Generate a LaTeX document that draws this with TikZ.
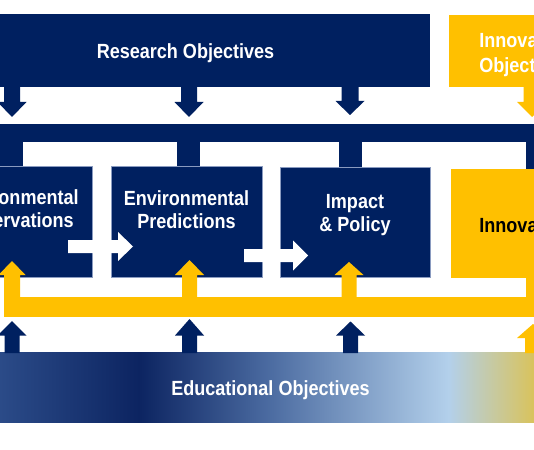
\documentclass[tikz,border=0pt]{standalone}
\usepackage{fontspec}
\setmainfont{Liberation Sans}
\newfontfamily\tfontfam[FakeStretch=0.88]{Liberation Sans Bold}
\newcommand\tfont{\tfontfam\fontsize{20.5}{23}\selectfont}
\definecolor{navy}{HTML}{002060}
\definecolor{gold}{HTML}{FFC000}
\definecolor{edge}{HTML}{8A9BC0}
\definecolor{eduA}{HTML}{2B4B88}
\definecolor{eduB}{HTML}{0C2461}
\definecolor{eduC}{HTML}{4A6AA0}
\definecolor{eduD}{HTML}{B3D0EB}
\definecolor{eduE}{HTML}{D9C35C}
\pgfdeclarehorizontalshading{edushade}{100bp}{color(0bp)=(eduA); color(25bp)=(eduA); color(38bp)=(eduB); color(50bp)=(eduC); color(67bp)=(eduD); color(75bp)=(eduE); color(100bp)=(eduE)}
% vertical block arrow: colour, x, y start, y head base, y tip, half shaft, half head
\newcommand\myVArrow[7]{\fill[#1] ({#2-#6},#3) -- ({#2-#6},#4) -- ({#2-#7},#4) -- (#2,#5) -- ({#2+#7},#4) -- ({#2+#6},#4) -- ({#2+#6},#3) -- cycle;}
% horizontal block arrow: colour, y, x start, x head base, x tip, half shaft, half head
\newcommand\myHArrow[7]{\fill[#1] (#3,{#2-#6}) -- (#4,{#2-#6}) -- (#4,{#2-#7}) -- (#5,#2) -- (#4,{#2+#7}) -- (#4,{#2+#6}) -- (#3,{#2+#6}) -- cycle;}
\begin{document}
\begin{tikzpicture}[x=1pt,y=-1pt,
  lbl/.style={text=white,font=\tfont,align=center,inner sep=0pt},
  area/.style={inner sep=0pt,outer sep=0pt,anchor=north west},
  navybox/.style={area,fill=navy,draw=edge,line width=0.8pt,minimum width=151pt,minimum height=111pt},
  goldbox/.style={area,fill=gold}]
\useasboundingbox (0,0) rectangle (534,449);
\clip (0,0) rectangle (534,449);
\fill[white] (0,0) rectangle (534,449);
% top bars
\node[area,fill=navy,minimum width=430pt,minimum height=73pt] (rbar) at (0,14) {};
\node[goldbox,minimum width=200pt,minimum height=72pt] (ibar) at (449,15) {};
% arrows down from top bars
\myVArrow{navy}{12}{86}{102}{117}{8}{14.5}
\myVArrow{navy}{189}{86}{102}{117}{8}{14.5}
\myVArrow{navy}{350}{86}{101}{115}{8.5}{14.5}
\myVArrow{gold}{532}{86}{102}{117}{8.5}{15}
% blue comb
\node[area,fill=navy,minimum width=600pt,minimum height=18pt] (band) at (0,124) {};
\fill[navy] (0,141) rectangle (23,167);
\fill[navy] (177,141) rectangle (200,167);
\fill[navy] (339,141) rectangle (362,168);
\myVArrow{navy}{534.5}{141}{175}{193}{8.5}{17}
% boxes
\node[navybox] (obs) at (-59,166) {};
\node[navybox] (pred) at (111,166) {};
\node[navybox,minimum width=150pt,minimum height=110pt] (imp) at (280,167.5) {};
\node[goldbox,minimum width=150pt,minimum height=109pt] (inn) at (451,169) {};
% white arrows between boxes
\myHArrow{white}{246.5}{68}{118}{133}{6.5}{14.5}
\myHArrow{white}{255.5}{244}{293}{308}{6.5}{15}
% yellow comb
\node[area,fill=gold,minimum width=600pt,minimum height=20pt] (yband) at (4,297) {};
\myVArrow{gold}{12}{298}{275}{261}{8}{13.5}
\myVArrow{gold}{189.5}{298}{275}{260}{7.5}{14.5}
\myVArrow{gold}{349}{298}{275}{262}{7.5}{14.5}
\fill[gold] (526,277) rectangle (545,298);
% educational bar
\node[area,shading=edushade,minimum width=534pt,minimum height=70pt] (ebar) at (0,352) {};
\myVArrow{navy}{12}{353}{335.5}{321}{7.5}{14.5}
\myVArrow{navy}{189.5}{353}{335.5}{319}{7.5}{14.5}
\myVArrow{navy}{350.5}{353}{335.5}{321.5}{7.5}{14.5}
\myVArrow{gold}{533}{353}{338}{324}{8}{16}
% texts
\node[lbl,anchor=base] (rtxt) at (185.5,59) {Research Objectives};
\node[lbl] (itxt) at (525,54.3) {Innovation\\[2pt]Objectives};
\node[lbl] (otxt) at (16,209) {Environmental\\Observations};
\node[lbl] (ptxt) at (186.5,209.5) {Environmental\\Predictions};
\node[lbl] (mtxt) at (355,215) {Impact\\\& Policy};
\node[lbl,anchor=base,text=black] (ntxt) at (525,232) {Innovation};
\node[lbl,anchor=base] (etxt) at (270.5,395.5) {Educational Objectives};
\end{tikzpicture}
\end{document}
